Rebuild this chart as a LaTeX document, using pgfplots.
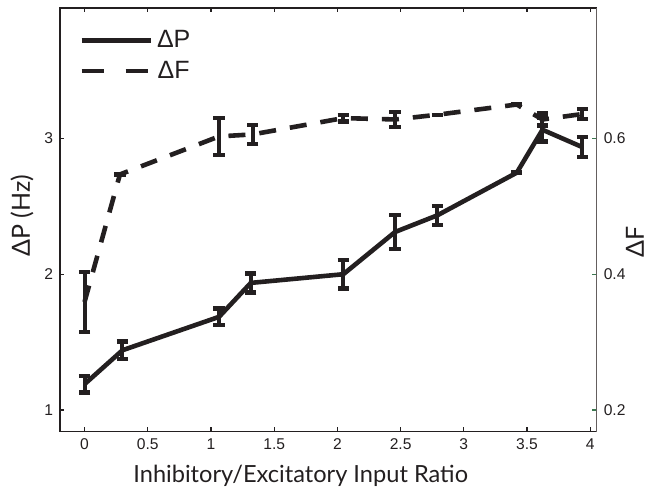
\documentclass[border=0pt]{standalone}
\usepackage{fontspec}
\setmainfont{Liberation Sans}
\newfontfamily\labelfont{Lato}
\usepackage{pgfplots}
\usepackage{pgfplotstable}
\pgfplotsset{compat=1.18}

\definecolor{ink}{RGB}{35,31,32}
\definecolor{spinegray}{RGB}{100,94,94}
\definecolor{tickgreen}{RGB}{60,120,80}

% Delta P (Hz) with error
\pgfplotstableread{
x      y      e
0      1.19   0.06
0.30   1.44   0.065
1.064  1.686  0.06
1.315  1.936  0.07
2.047  2.00   0.105
2.456  2.311  0.125
2.791  2.434  0.07
3.419  2.748  0.0
3.622  3.064  0.085
3.938  2.936  0.074
}\dP

% Delta F with error
\pgfplotstableread{
x      y      e
0      0.359  0.044
0.28   0.547  0.0
1.064  0.603  0.027
1.33   0.606  0.014
2.047  0.630  0.005
2.456  0.628  0.011
2.791  0.635  0.0
3.419  0.650  0.0
3.622  0.628  0.009
3.938  0.636  0.007
}\dF

\pgfplotsset{
  common/.style={
    scale only axis, width=268.35pt, height=211.85pt,
    xmin=-0.194, xmax=4.051,
    tick align=inside, major tick length=2.2pt,
    /pgf/number format/assume math mode=true,
    ticklabel style={font=\fontsize{7.8}{9}\selectfont, text=ink},
  },
  errs/.style={
    error bars/.cd, y dir=both, y explicit,
    error bar style={solid, line width=2pt, ink},
    error mark options={solid, rotate=90, mark size=2.8pt, line width=2.2pt, ink},
  },
}

\begin{document}
\begin{tikzpicture}
\path[use as bounding box] (-30pt,-29.65pt) rectangle (296pt,215.85pt);
\begin{axis}[
  common,
  ymin=0.840, ymax=3.961,
  xtick={0,0.5,1,1.5,2,2.5,3,3.5,4},
  ytick={1,2,3},
  xtick pos=both, ytick pos=left,
  axis line style={ink, line width=0.7pt},
  tick style={ink, line width=0.6pt},
  xlabel={\labelfont Inhibitory/Excitatory Input Ratio},
  xlabel style={at={(axis description cs:0.4485,-0.103)}, anchor=center,
    font=\fontsize{11.8}{14}\selectfont, text=ink},
  ylabel={\labelfont ΔP (Hz)},
  ylabel style={at={(axis description cs:-0.071,0.51)}, anchor=center,
    font=\fontsize{12.5}{14}\selectfont, text=ink},
  legend style={draw=none, fill=none, at={(axis description cs:0.0354,0.957)},
    anchor=north west, font=\fontsize{12.5}{13}\selectfont, text=ink,
    row sep=1pt, inner sep=0pt},
  legend image code/.code={\draw[#1] (0pt,0pt) -- (34.5pt,0pt);},
]
\addplot[ink, line width=2.3pt, line join=round, mark=none, errs]
  table[x=x, y=y, y error=e] {\dP};
\addlegendentry{ΔP}
\addlegendimage{ink, line width=2pt, dash pattern=on 11pt off 11pt}
\addlegendentry{ΔF}
\end{axis}
\begin{axis}[
  common,
  ymin=0.168, ymax=0.7922,
  axis x line=none, axis y line*=right,
  y axis line style={-, spinegray, line width=0.7pt},
  every outer y axis line/.append style={-},
  ytick={0.2,0.4,0.6},
  yticklabel style={/pgf/number format/fixed, /pgf/number format/precision=1},
  ytick style={tickgreen, line width=0.6pt},
  ylabel={\labelfont ΔF},
  ylabel style={at={(axis description cs:1.0714,0.448)}, anchor=center,
    font=\fontsize{12.5}{14}\selectfont, text=ink},
]
\addplot[ink, line width=2.3pt, dash pattern=on 8.5pt off 7pt, mark=none, errs]
  table[x=x, y=y, y error=e] {\dF};
\end{axis}
\end{tikzpicture}
\end{document}
